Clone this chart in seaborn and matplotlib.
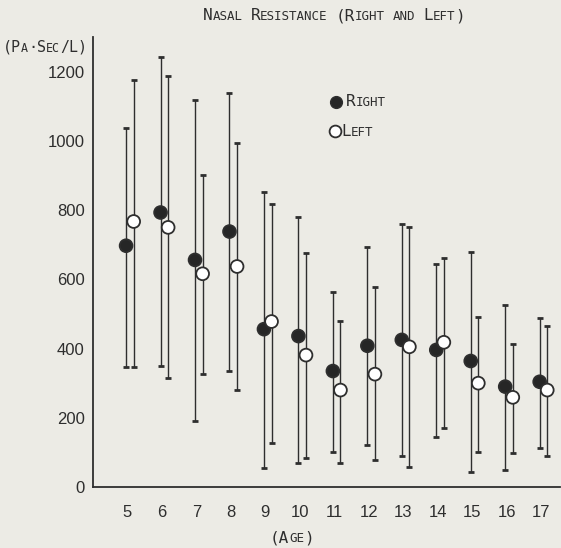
import matplotlib
matplotlib.use("Agg")

import matplotlib.pyplot as plt
from matplotlib.offsetbox import TextArea, HPacker, AnnotationBbox
import seaborn as sns
import pandas as pd

ages = [5, 6, 7, 8, 9, 10, 11, 12, 13, 14, 15, 16, 17]

right_mean = [697, 793, 656, 738, 456, 436, 335, 408, 425, 396, 364, 290, 304]
right_upper = [1038, 1241, 1118, 1138, 853, 781, 562, 693, 759, 644, 678, 525, 488]
right_lower = [348, 350, 191, 334, 55, 70, 100, 121, 89, 145, 44, 49, 114]

left_mean = [767, 750, 616, 637, 478, 381, 280, 326, 405, 418, 300, 259, 280]
left_upper = [1176, 1186, 901, 993, 818, 676, 480, 577, 750, 663, 490, 413, 465]
left_lower = [348, 315, 326, 279, 128, 84, 68, 77, 59, 170, 102, 97, 90]

BG = "#ecebe5"
INK = "#2e2e2e"
NUM_FONT = ["Liberation Sans", "DejaVu Sans"]
CAPS_FONT = dict(family=["DejaVu Sans Mono"], color=INK)


def small_caps(fig, x, y, text, big, small, align=(0.5, 0.5)):
    """Draw text in small caps (lowercase letters as smaller capitals)."""
    words = []
    for word in text.split(" "):
        runs = []
        cur, cur_low = "", None
        for ch in word:
            low = ch.islower()
            if cur and low != cur_low:
                runs.append((cur, cur_low))
                cur = ""
            cur += ch.upper()
            cur_low = low
        if cur:
            runs.append((cur, cur_low))
        boxes = [TextArea(r, textprops=dict(size=small if lo else big, **CAPS_FONT)) for r, lo in runs]
        words.append(HPacker(children=boxes, align="baseline", pad=0, sep=0))
    packer = HPacker(children=words, align="baseline", pad=0, sep=big * 0.5)
    ab = AnnotationBbox(packer, (x / 561, 1 - y / 548), xycoords="figure fraction",
                        frameon=False, box_alignment=align, pad=0)
    fig.add_artist(ab)


sns.set_style("white")
plt.rcParams["font.family"] = NUM_FONT

df = pd.DataFrame({
    "age": ages * 2,
    "side": ["Right"] * len(ages) + ["Left"] * len(ages),
    "mean": right_mean + left_mean,
    "upper": right_upper + left_upper,
    "lower": right_lower + left_lower,
})
offsets = {"Right": -0.04, "Left": 0.18}
df["x"] = df["age"] + df["side"].map(offsets)

fig = plt.figure(figsize=(5.61, 5.48), dpi=100, facecolor=BG)
ax = fig.add_axes([93 / 561, 61 / 548, 467 / 561, 450 / 548], facecolor=BG)

for side in ["Right", "Left"]:
    d = df[df["side"] == side]
    ax.errorbar(d["x"], d["mean"], yerr=[d["mean"] - d["lower"], d["upper"] - d["mean"]],
                fmt="none", ecolor=INK, elinewidth=1.0, capsize=2.2, capthick=2.0, zorder=2)

sns.scatterplot(data=df, x="x", y="mean", hue="side", palette={"Right": "#262626", "Left": "white"},
                edgecolor=INK, linewidth=1.3, s=85, legend=False, ax=ax, zorder=3)

ax.set_xlim(4, 17.55)
ax.set_ylim(0, 1300)
ax.set_xticks(ages)
ax.set_yticks(range(0, 1201, 200))
ax.set_xlabel("")
ax.set_ylabel("")
ax.tick_params(axis="both", direction="in", length=4, width=1.0, colors=INK,
               labelsize=12, labelcolor=INK)
ax.tick_params(axis="x", pad=13)
ax.tick_params(axis="y", pad=6)
sns.despine(ax=ax)
ax.spines["left"].set_color(INK)
ax.spines["bottom"].set_color(INK)
ax.spines["left"].set_linewidth(1.3)
ax.spines["bottom"].set_linewidth(1.3)

# title, axis labels
small_caps(fig, 334, 16, "Nasal Resistance (Right and Left)", 11.5, 9)
small_caps(fig, 45, 47, "(Pa·Sec/L)", 10.8, 8.4)
small_caps(fig, 292, 538, "(Age)", 11.5, 9)

# legend
fig.lines.append(plt.Line2D([336 / 561], [1 - 102 / 548], transform=fig.transFigure, marker="o",
                            markersize=8.5, color="#262626", markeredgecolor=INK, linestyle="none"))
fig.lines.append(plt.Line2D([335 / 561], [1 - 131 / 548], transform=fig.transFigure, marker="o",
                            markersize=8.5, markerfacecolor="white", markeredgecolor=INK,
                            markeredgewidth=1.3, linestyle="none"))
small_caps(fig, 346, 102, "Right", 11.5, 9, align=(0, 0.5))
small_caps(fig, 341, 131, "Left", 11.5, 9, align=(0, 0.5))

fig.savefig("out.png", dpi=100, facecolor=BG)
plt.close(fig)
